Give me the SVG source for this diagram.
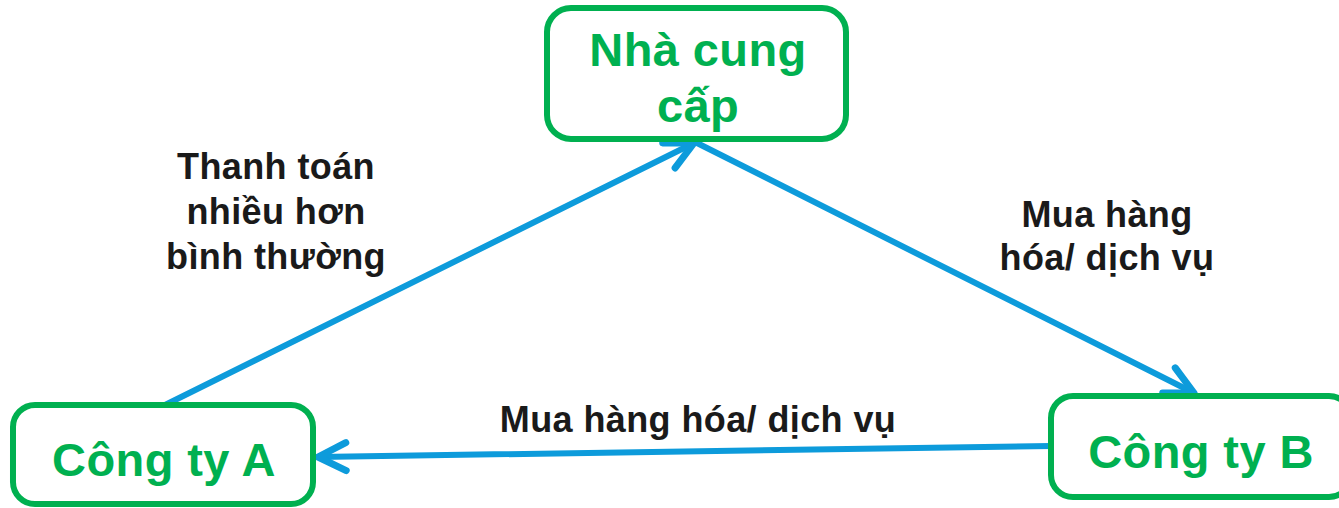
<svg xmlns="http://www.w3.org/2000/svg" width="1339" height="508" viewBox="0 0 1339 508">
<style>
.box{fill:#fff;stroke:#00B050;stroke-width:6}
.nt{font-family:"Liberation Sans",Arial,sans-serif;font-weight:bold;font-size:47px;fill:#00B050;text-anchor:middle;letter-spacing:0.4px}
.lb{font-family:"Liberation Sans",Arial,sans-serif;font-weight:bold;font-size:36px;fill:#1a1a1a;text-anchor:middle;letter-spacing:0.4px}
.cn{stroke:#0D9BDB;stroke-width:6;fill:none;stroke-linecap:round;marker-end:url(#ah)}
</style>
<defs>
<marker id="ah" markerUnits="userSpaceOnUse" orient="auto" refX="0" refY="0" markerWidth="60" markerHeight="60" overflow="visible">
<path d="M-28,-14 L0,0 L-28,14" fill="none" stroke="#0D9BDB" stroke-width="7" stroke-linecap="round" stroke-linejoin="round"/>
</marker>
</defs>
<g id="connectors">
<line class="cn" x1="165" y1="405" x2="694" y2="143"/>
<line class="cn" x1="697" y1="143" x2="1194" y2="393"/>
<line class="cn" x1="1051" y1="446" x2="318" y2="457"/>
</g>
<g id="supplier">
<rect class="box" x="547" y="8" width="299" height="131" rx="24"/>
<text class="nt" x="698" y="66">Nhà cung</text>
<text class="nt" x="698" y="122">cấp</text>
</g>
<g id="companyA">
<rect class="box" x="13" y="405" width="300" height="99" rx="22"/>
<text class="nt" x="164" y="476">Công ty A</text>
</g>
<g id="companyB">
<rect class="box" x="1051" y="396" width="300" height="101" rx="22"/>
<text class="nt" x="1201" y="468">Công ty B</text>
</g>
<g id="labels">
<text class="lb" x="276" y="179">Thanh toán</text>
<text class="lb" x="276" y="224">nhiều hơn</text>
<text class="lb" x="276" y="269">bình thường</text>
<text class="lb" x="1107" y="227">Mua hàng</text>
<text class="lb" x="1107" y="270">hóa/ dịch vụ</text>
<text class="lb" x="698" y="432">Mua hàng hóa/ dịch vụ</text>
</g>
</svg>
